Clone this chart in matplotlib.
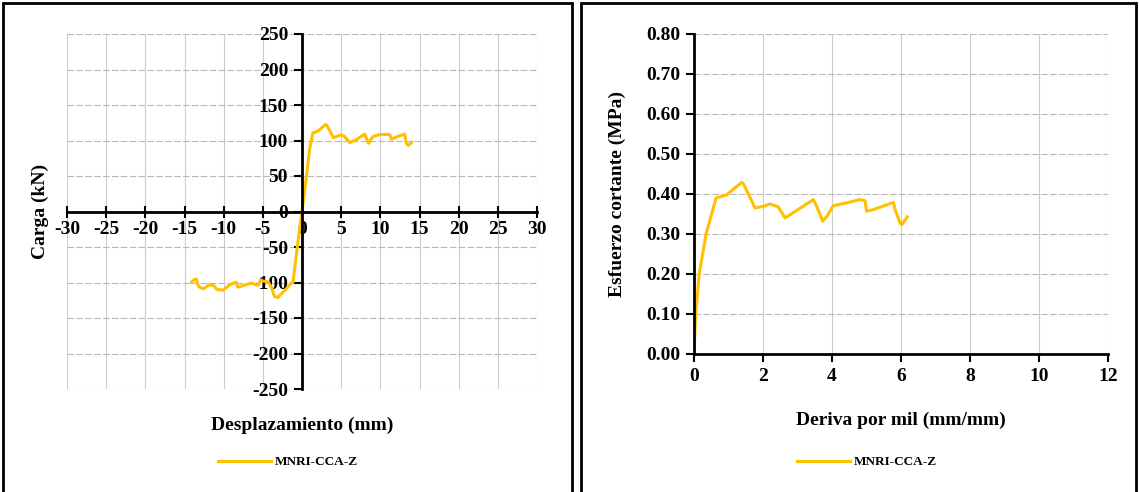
import matplotlib.pyplot as plt
from matplotlib.patches import Rectangle
from matplotlib.ticker import FormatStrFormatter

# Carga vs desplazamiento (histeresis, envolvente)
desp = [-14.1, -13.9, -13.5, -13.2, -12.6, -11.8, -11.3, -10.9, -10.1, -9.2,
        -8.4, -8.2, -6.5, -5.6, -5.3, -4.3, -3.9, -3.5, -3.1, -2.0, -1.4,
        -1.15, -0.5, 0.0, 0.55, 1.0, 1.4, 2.0, 3.0, 3.2, 4.0, 5.0, 5.4, 6.1,
        6.9, 8.0, 8.5, 9.0, 9.9, 11.2, 11.4, 12.2, 13.1, 13.3, 13.6, 14.0]
carga = [-99.5, -97, -95, -105.6, -109, -103, -104, -109.5, -111, -103,
         -99.5, -106.6, -101, -104, -97, -99.5, -106.6, -120, -121, -109, -101,
         -99.5, -41, 0, 48, 90, 110.8, 113, 122.5, 121, 104, 108, 106, 97,
         101, 109, 96, 105, 108.5, 108.5, 102, 105.6, 109, 96, 93, 97.6]

# Esfuerzo cortante vs deriva
deriva = [0.0, 0.05, 0.15, 0.35, 0.64, 0.95, 1.38, 1.43, 1.77, 2.0, 2.2, 2.44,
          2.64, 3.46, 3.56, 3.73, 3.85, 4.04, 4.43, 4.81, 4.96, 5.0, 5.2,
          5.78, 5.83, 5.97, 6.02, 6.18]
esfuerzo = [0.0, 0.10, 0.20, 0.30, 0.39, 0.398, 0.429, 0.426, 0.365, 0.369,
            0.375, 0.368, 0.34, 0.386, 0.369, 0.332, 0.344, 0.371, 0.378,
            0.386, 0.383, 0.357, 0.361, 0.379, 0.361, 0.328, 0.323, 0.343]

serie = 'MNRI-CCA-Z'
color = '#FFC000'

plt.rcParams['font.family'] = 'Liberation Serif'
plt.rcParams['font.weight'] = 'bold'
plt.rcParams['axes.labelweight'] = 'bold'
plt.rcParams['axes.unicode_minus'] = False

fig = plt.figure(figsize=(11.39, 4.92), dpi=100)

# marcos de cada panel
fig.patches.append(Rectangle((3/1139, -0.05), 569/1139, 1.05 - 3/492,
                             transform=fig.transFigure, fill=False, lw=2, ec='black'))
fig.patches.append(Rectangle((581/1139, -0.05), 555/1139, 1.05 - 3/492,
                             transform=fig.transFigure, fill=False, lw=2, ec='black'))


def estilo(ax):
    ax.grid(True, axis='x', color='#cccccc', lw=0.8)
    ax.grid(True, axis='y', color='#b8b8b8', lw=0.8, ls=(0, (6, 2)))
    ax.set_axisbelow(True)
    for s in ['top', 'right']:
        ax.spines[s].set_visible(False)
    for s in ['left', 'bottom']:
        ax.spines[s].set_linewidth(2)
    ax.tick_params(labelsize=14, width=1.5, length=6, pad=4)


# Panel izquierdo
ax1 = fig.add_axes([67/1139, 1 - 389/492, 470/1139, 355/492])
ax1.plot(desp, carga, color=color, lw=2.2, label=serie)
ax1.set_xlim(-30, 30)
ax1.set_ylim(-250, 250)
ax1.set_xticks(range(-30, 31, 5))
ax1.set_yticks(range(-250, 251, 50))
estilo(ax1)
ax1.spines['left'].set_position(('data', 0))
ax1.spines['bottom'].set_position(('data', 0))
ax1.tick_params(axis='x', direction='inout', length=8, pad=3)
ax1.set_xlabel('Desplazamiento (mm)', fontsize=14, va='center')
ax1.set_ylabel('Carga (kN)', fontsize=14, va='center')
ax1.xaxis.set_label_coords(0.5, -0.101)
ax1.yaxis.set_label_coords(-0.057, 0.5)
ax1.legend(loc='center', bbox_to_anchor=(288/1139, 1 - 462/492),
           bbox_transform=fig.transFigure, frameon=False, fontsize=9.5,
           handlelength=4, handletextpad=0.3)

# Panel derecho
ax2 = fig.add_axes([694/1139, 1 - 354/492, 414/1139, 320/492])
ax2.plot(deriva, esfuerzo, color=color, lw=2.2, label=serie)
ax2.set_xlim(0, 12)
ax2.set_ylim(0, 0.8)
ax2.set_xticks(range(0, 13, 2))
ax2.set_yticks([i / 10 for i in range(9)])
ax2.yaxis.set_major_formatter(FormatStrFormatter('%.2f'))
estilo(ax2)
ax2.set_xlabel('Deriva por mil (mm/mm)', fontsize=14, va='center')
ax2.set_ylabel('Esfuerzo cortante (MPa)', fontsize=14, va='center')
ax2.xaxis.set_label_coords(0.5, -0.206)
ax2.yaxis.set_label_coords(-0.184, 0.5)
ax2.legend(loc='center', bbox_to_anchor=(867/1139, 1 - 462/492),
           bbox_transform=fig.transFigure, frameon=False, fontsize=9.5,
           handlelength=4, handletextpad=0.3)

fig.savefig('out.png', dpi=100)
